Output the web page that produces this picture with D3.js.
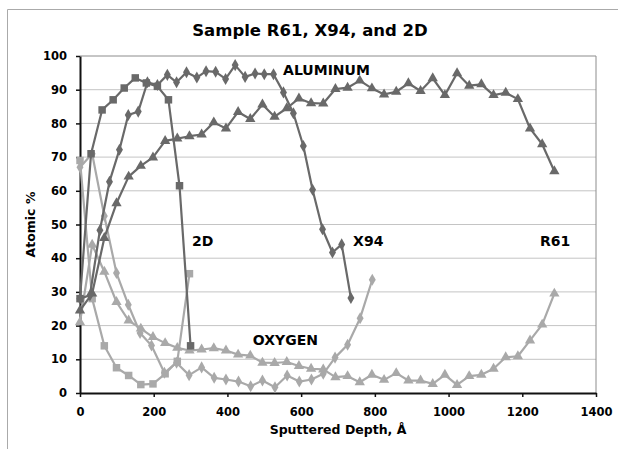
<!DOCTYPE html>
<html>
<head>
<meta charset="utf-8">
<script src="https://cdn.jsdelivr.net/npm/d3@7/dist/d3.min.js"></script>
<style>
  body { margin: 0; background: #fff; }
  text { font-family: 'DejaVu Sans', sans-serif; font-weight: bold; fill: #000; }
</style>
</head>
<body>
<div id="graf"></div>
<script>
// I. Datos
// Muestra 2D
prof2dAl = [0, 30, 60, 90, 120, 150, 180, 210, 240, 270, 300]
al2d     = [28, 71, 84, 87, 90.5, 93.5, 92, 91, 87, 61.5, 14]
prof2dO  = [0, 33, 66, 99, 132, 165, 198, 231, 264, 297]
ox2d     = [69, 28, 14, 7.5, 5.2, 2.5, 2.7, 5.7, 9.4, 35.4]

// Muestra X94
profX94Al = [0, 27, 54, 80, 107, 131, 158, 183, 210, 237, 262, 289, 317, 342, 368,
             395, 421, 448, 475, 500, 525, 552, 579, 606, 631, 658, 685, 710, 735]
alX94     = [28, 29, 48.3, 62.7, 72.2, 82.5, 83.5, 92.2, 91.4, 94.4, 92.2, 95.2, 93.6, 95.5, 95.3,
             93.2, 97.3, 93.8, 94.8, 94.6, 94.6, 89.2, 83, 73.3, 60.3, 48.6, 41.7, 44.1, 28.2]
profX94O  = [0, 33, 66, 99, 131, 163, 194, 229, 262, 296, 330, 364, 396, 430, 463,
             495, 529, 562, 595, 628, 660, 692, 726, 760, 793]
oxX94     = [67, 71, 52.5, 35.6, 26.2, 17.8, 14.1, 6, 9, 5.3, 7.6, 4.5, 4, 3.4, 2,
             3.7, 1.7, 5.2, 3.4, 4, 5.7, 10.5, 14.3, 22.2, 33.6]

// Muestra R61
profR61 = [0, 33, 66, 99, 132, 165, 198, 231, 264, 297, 330, 363, 396, 429, 462, 495, 528, 561, 594, 627,
           660, 693, 726, 759, 792, 825, 858, 891, 924, 957, 990, 1023, 1056, 1089, 1122, 1155, 1188, 1221, 1254, 1287]
alR61   = [24.5, 29.5, 46, 56.3, 64.2, 67.4, 69.9, 74.8, 75.5, 76.2, 76.7, 80.3, 78.5, 83.4, 81.3, 85.6, 82, 84.5, 87.4, 86,
           85.9, 90.2, 90.6, 92.7, 90.4, 88.6, 89.4, 91.9, 89.6, 93.4, 88.4, 94.9, 91.2, 91.6, 88.4, 89.1, 87.2, 78.5, 73.8, 65.8]
oxR61   = [21, 44, 36, 27, 21.5, 19.1, 16.6, 14.8, 13.4, 12.6, 12.9, 13.3, 12.6, 11.4, 11.1, 9, 8.9, 9.2, 8, 7.2,
           7, 4.7, 5, 3.2, 5.4, 3.9, 5.9, 3.7, 3.7, 2.7, 5.4, 2.4, 5, 5.4, 7.2, 10.6, 10.9, 15.6, 20.3, 29.5]

ticksX = [0, 200, 400, 600, 800, 1000, 1200, 1400]
ticksY = [0, 10, 20, 30, 40, 50, 60, 70, 80, 90, 100]

etiquetas = ['ALUMINUM', '2D', 'X94', 'R61', 'OXYGEN']
etiquetasProf = [551, 304, 741, 1248, 469]
etiquetasVal  = [96, 45, 45, 45, 15.6]

// II. Configuración
ancho_total = 618
alto_total = 449
margins = { top: 56, left: 80, right: 22, bottom: 56 }
ancho = ancho_total - margins.left - margins.right
alto  = alto_total - margins.top - margins.bottom

oscuro = '#696969'
claro  = '#a9a9a9'

svg = d3.select('#graf').append('svg')
        .attr('width', ancho_total)
        .attr('height', alto_total)

// marco exterior
svg.append('path')
   .attr('d', 'M7.5,460V9.5H630')
   .attr('fill', 'none')
   .attr('stroke', '#aaa')

svg.append('text')
   .attr('x', 310)
   .attr('y', 36)
   .attr('text-anchor', 'middle')
   .style('font-size', '16.5px')
   .text('Sample R61, X94, and 2D')

g = svg.append('g')
       .attr('transform', `translate(${ margins.left }, ${ margins.top })`)

x = d3.scaleLinear().domain([0, 1400]).range([0, ancho])
y = d3.scaleLinear().domain([0, 100]).range([alto, 0])

// rejilla
g.selectAll('line.grid')
  .data(ticksY.slice(1, -1))
  .enter().append('line')
    .attr('class', 'grid')
    .attr('x1', 0).attr('x2', ancho)
    .attr('y1', d => y(d)).attr('y2', d => y(d))
    .attr('stroke', '#c4c4c4')

g.append('path')
  .attr('d', `M0,${ y(100) }H${ x(1400) }V${ y(0) }`)
  .attr('fill', 'none')
  .attr('stroke', '#8c8c8c')

// ejes
xAxisGroup = g.append('g')
  .attr('transform', `translate(0, ${ alto })`)
  .call(d3.axisBottom(x).tickValues(ticksX).tickFormat(d3.format('d'))
          .tickSize(4).tickPadding(11).tickSizeOuter(0))
yAxisGroup = g.append('g')
  .call(d3.axisLeft(y).tickValues(ticksY).tickFormat(d3.format('d'))
          .tickSize(4).tickPadding(9).tickSizeOuter(0))

g.selectAll('.domain').attr('stroke', '#111').attr('stroke-width', 2)
g.selectAll('.tick line').attr('stroke', '#111').attr('stroke-width', 1.5)
g.selectAll('.tick text').style('font-size', '11.5px').style('font-family', "'DejaVu Sans', sans-serif")

svg.append('text')
   .attr('transform', `translate(35, ${ margins.top + alto / 2 }) rotate(-90)`)
   .attr('text-anchor', 'middle')
   .style('font-size', '12.5px')
   .text('Atomic %')

svg.append('text')
   .attr('x', margins.left + x(700))
   .attr('y', 434)
   .attr('text-anchor', 'middle')
   .style('font-size', '12.5px')
   .text('Sputtered Depth, Å')

// III. Series
series = [
  { prof: prof2dO,   val: ox2d,  color: claro,  sim: d3.symbolSquare,   tam: 56 },
  { prof: profX94O,  val: oxX94, color: claro,  sim: d3.symbolDiamond,  tam: 42 },
  { prof: profR61,   val: oxR61, color: claro,  sim: d3.symbolTriangle, tam: 46 },
  { prof: profR61,   val: alR61, color: oscuro, sim: d3.symbolTriangle, tam: 46 },
  { prof: profX94Al, val: alX94, color: oscuro, sim: d3.symbolDiamond,  tam: 42 },
  { prof: prof2dAl,  val: al2d,  color: oscuro, sim: d3.symbolSquare,   tam: 56 }
]

linea = d3.line().x(d => x(d[0])).y(d => y(d[1]))

function render(s) {
  puntos = s.prof.map((p, i) => [p, s.val[i]])
  g.append('path')
    .datum(puntos)
    .attr('d', linea)
    .attr('fill', 'none')
    .attr('stroke', s.color)
    .attr('stroke-width', 2.2)
    .attr('stroke-linejoin', 'round')

  g.append('g').selectAll('path')
    .data(puntos)
    .enter().append('path')
      .attr('transform', d => `translate(${ x(d[0]) }, ${ y(d[1]) })`)
      .attr('d', d3.symbol().type(s.sim).size(s.tam))
      .attr('fill', s.color)
}

series.forEach(render)

// etiquetas
g.selectAll('text.etiqueta')
  .data(etiquetas)
  .enter().append('text')
    .attr('class', 'etiqueta')
    .attr('x', (d, i) => x(etiquetasProf[i]))
    .attr('y', (d, i) => y(etiquetasVal[i]))
    .attr('dy', '0.36em')
    .style('font-size', '14px')
    .text(d => d)
</script>
</body>
</html>
